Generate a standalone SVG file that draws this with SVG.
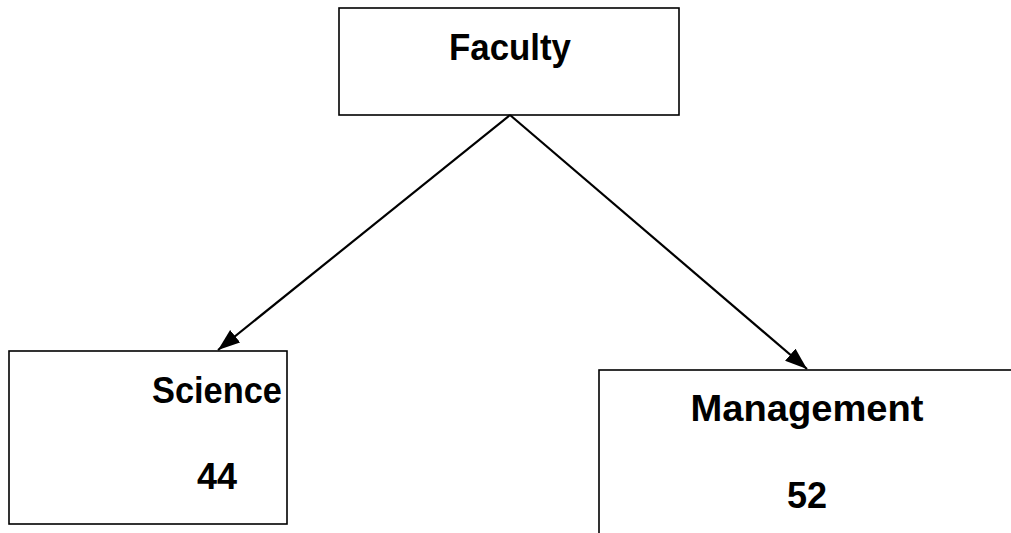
<svg xmlns="http://www.w3.org/2000/svg" width="1011" height="533" viewBox="0 0 1011 533">
<style>
.box{fill:#fff;stroke:#000;stroke-width:1.6}
.t{font-family:"Liberation Sans",Arial,sans-serif;font-weight:bold;font-size:36px;fill:#000;text-anchor:middle}
.c{stroke:#000;stroke-width:2.2;fill:none}
</style>
<defs>
<marker id="arr" viewBox="0 0 22 16" refX="22" refY="8" markerWidth="22" markerHeight="16" markerUnits="userSpaceOnUse" orient="auto">
<path d="M0,0 L22,8 L0,16 z" fill="#000"/>
</marker>
</defs>
<g id="faculty">
<rect class="box" x="339" y="8" width="340" height="107"/>
<text class="t" x="510" y="60" textLength="122" lengthAdjust="spacingAndGlyphs">Faculty</text>
</g>
<g id="science">
<rect class="box" x="9" y="351" width="278" height="173"/>
<text class="t" x="217" y="403" textLength="130" lengthAdjust="spacingAndGlyphs">Science</text>
<text class="t" x="217" y="489">44</text>
</g>
<g id="management">
<rect class="box" x="599" y="370" width="430" height="200"/>
<text class="t" x="807" y="421" textLength="233" lengthAdjust="spacingAndGlyphs">Management</text>
<text class="t" x="807" y="508">52</text>
</g>
<g id="connectors">
<line class="c" x1="510" y1="115" x2="218" y2="350" marker-end="url(#arr)"/>
<line class="c" x1="510" y1="115" x2="807" y2="369" marker-end="url(#arr)"/>
</g>
</svg>
